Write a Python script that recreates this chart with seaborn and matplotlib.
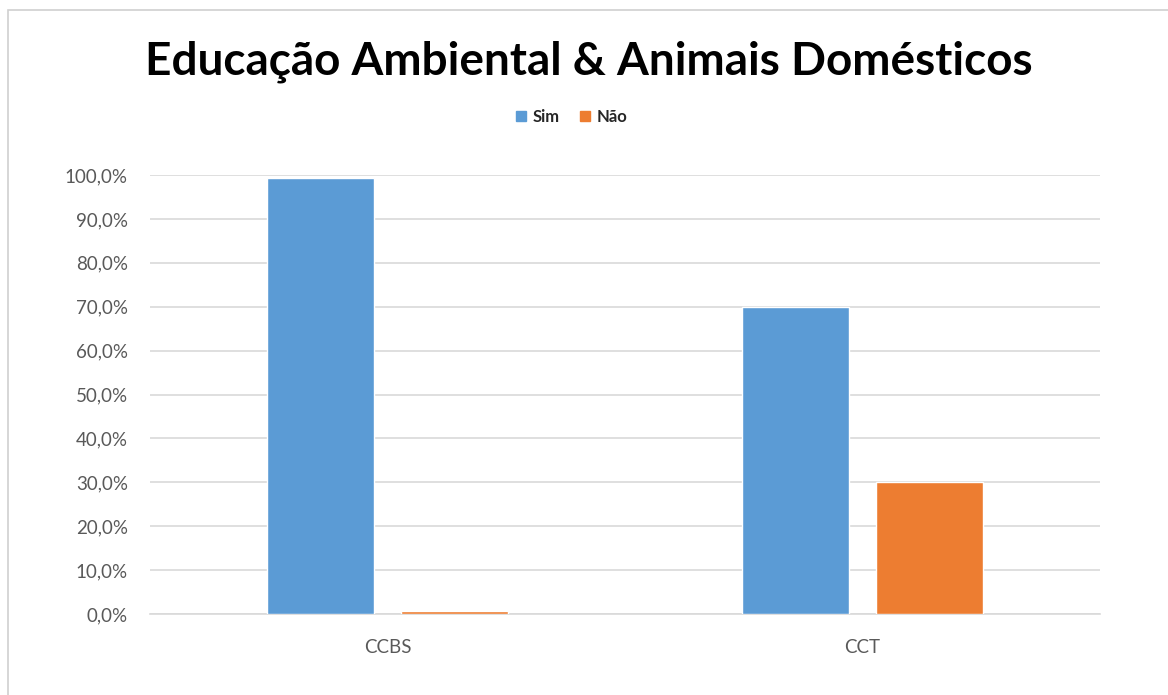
import matplotlib
matplotlib.use("Agg")
import matplotlib.pyplot as plt
import seaborn as sns
import pandas as pd
from matplotlib.patches import Rectangle
from matplotlib.ticker import FuncFormatter

# data
centros = ["CCBS", "CCT"]
sim = [99.3, 70.0]
nao = [0.7, 30.0]
respostas = ["Sim", "Não"]
cores = ["#5B9BD5", "#ED7D31"]
yticks = [0, 10, 20, 30, 40, 50, 60, 70, 80, 90, 100]

df = pd.DataFrame({
    "centro": centros * 2,
    "resposta": ["Sim"] * len(centros) + ["Não"] * len(centros),
    "valor": sim + nao,
})

sns.set_style("white")
plt.rcParams["font.family"] = ["Lato", "DejaVu Sans"]

fig = plt.figure(figsize=(11.68, 6.95), dpi=100)
fig.patch.set_facecolor("white")
ax = fig.add_axes([150 / 1168, 1 - 614 / 695, 950 / 1168, 439 / 695])

sns.barplot(data=df, x="centro", y="valor", hue="resposta", hue_order=respostas,
            palette=cores, width=0.566, gap=0.2, saturation=1, ax=ax, zorder=3,
            legend=False)

ax.set_ylim(0, 100)
ax.set_yticks(yticks)
ax.yaxis.set_major_formatter(FuncFormatter(lambda v, p: f"{v:.1f}%".replace(".", ",")))
ax.grid(axis="y", color="#D9D9D9", linewidth=1.2, zorder=0)
for s in ["top", "right", "left"]:
    ax.spines[s].set_visible(False)
ax.spines["bottom"].set_color("#D9D9D9")
ax.spines["bottom"].set_linewidth(1.2)
ax.tick_params(axis="y", length=0, pad=16, labelsize=13.5, labelcolor="#595959")
ax.tick_params(axis="x", length=0, pad=18, labelsize=13.5, labelcolor="#595959")
ax.set_xlabel("")
ax.set_ylabel("")

fig.text(589 / 1168, 1 - 62 / 695, "Educação Ambiental & Animais Domésticos",
         ha="center", va="center", fontsize=33, fontweight="bold", color="black")

handles = [Rectangle((0, 0), 1, 1, color=c) for c in cores]
fig.legend(handles, respostas, loc="center", bbox_to_anchor=(572 / 1168, 1 - 117 / 695),
           ncol=2, frameon=False, prop={"weight": "bold", "size": 12},
           handlelength=0.6, handleheight=0.6, handletextpad=0.4, columnspacing=1.2)

fig.patches.append(Rectangle((8 / 1168, -0.05), 1.1, 1 - 10 / 695 + 0.05,
                             transform=fig.transFigure, fill=False,
                             edgecolor="#D0D0D0", linewidth=1.2))

fig.savefig("out.png", dpi=100)
